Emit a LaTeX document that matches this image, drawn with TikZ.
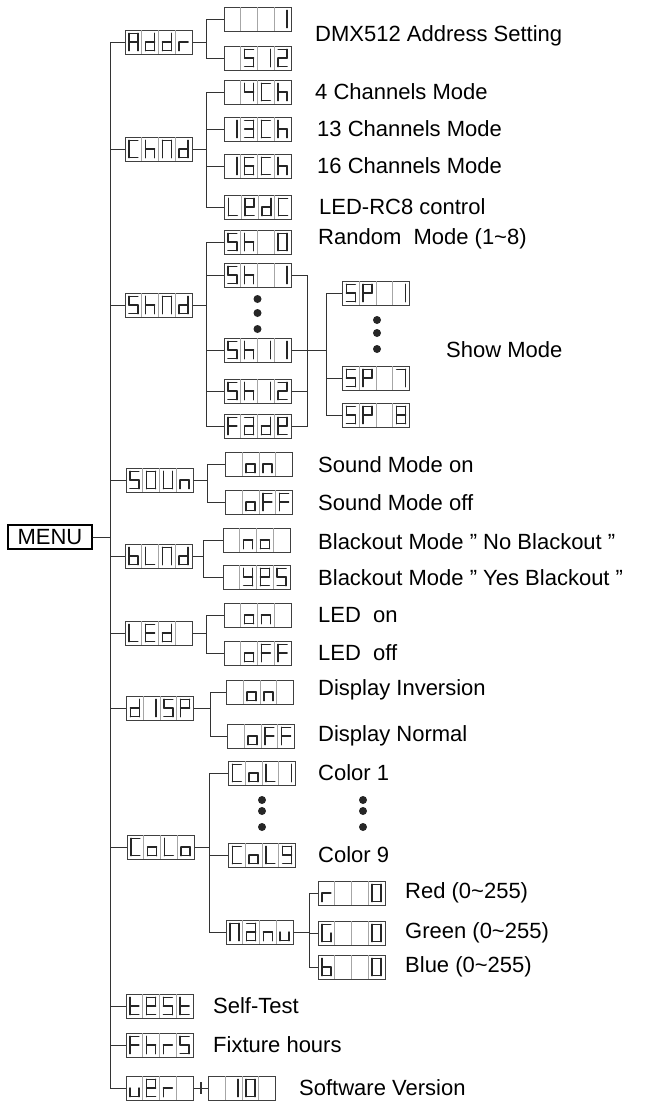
\documentclass[tikz,border=0pt]{standalone}
\usepackage{fontspec}
\setmainfont{Liberation Sans}
\usetikzlibrary{calc}
\begin{document}
\def\sw{4.5}\def\sh{8.7}
\def\segA{\draw[seg] (\cx-\sw,\cy-\sh)--(\cx+\sw,\cy-\sh);}
\def\segB{\draw[seg] (\cx+\sw,\cy-\sh)--(\cx+\sw,\cy);}
\def\segC{\draw[seg] (\cx+\sw,\cy)--(\cx+\sw,\cy+\sh);}
\def\segD{\draw[seg] (\cx-\sw,\cy+\sh)--(\cx+\sw,\cy+\sh);}
\def\segE{\draw[seg] (\cx-\sw,\cy)--(\cx-\sw,\cy+\sh);}
\def\segF{\draw[seg] (\cx-\sw,\cy-\sh)--(\cx-\sw,\cy);}
\def\segG{\draw[seg] (\cx-\sw,\cy)--(\cx+\sw,\cy);}
\expandafter\def\csname sg@a\endcsname{\segA}
\expandafter\def\csname sg@b\endcsname{\segB}
\expandafter\def\csname sg@c\endcsname{\segC}
\expandafter\def\csname sg@d\endcsname{\segD}
\expandafter\def\csname sg@e\endcsname{\segE}
\expandafter\def\csname sg@f\endcsname{\segF}
\expandafter\def\csname sg@g\endcsname{\segG}
\def\segs#1{\segsi#1\relax}
\def\segsi#1{\ifx#1\relax\else\csname sg@#1\endcsname\expandafter\segsi\fi}
\def\q{\symbol{34}}
% \disp{name}{x}{y}{cells}
\newcommand\disp[4]{%
  \node[dbox] (#1) at (#2,#3) {};
  \foreach \k in {1,2,3} {\draw[cell] (#2-33.5+\k*16.75,#3-12) -- (#2-33.5+\k*16.75,#3+12);}
  \foreach \c [count=\i] in {#4} {%
    \pgfmathsetmacro\cx{#2-33.5+(\i-0.5)*16.75}%
    \pgfmathsetmacro\cy{#3}%
    \expandafter\segs\expandafter{\c}}%
}
\begin{tikzpicture}[x=1pt,y=-1pt,
  dbox/.style={draw=black!75,line width=1pt,minimum width=67pt,minimum height=24pt,inner sep=0pt},
  cell/.style={black!35,line width=0.6pt},
  seg/.style={line width=1.4pt,line cap=round,black!85},
  conn/.style={line width=0.9pt,black!80},
  lbl/.style={anchor=west,font=\fontsize{22}{26}\selectfont,inner sep=0pt},
  dot/.style={circle,fill=black!85,inner sep=0pt,minimum size=8pt}]
\useasboundingbox (0,0) rectangle (659,1101);
\node[draw,line width=1.1pt,minimum width=84pt,minimum height=24pt,inner sep=0pt,font=\fontsize{22}{26}\selectfont] (menu) at (50,537) {MENU};
% level 1
\disp{addr}{158.5}{42}{abcefg,bcdeg,bcdeg,eg}
\disp{chnd}{158.5}{149}{adef,cefg,abcef,bcdeg}
\disp{shnd}{158.5}{305}{acdfg,cefg,abcef,bcdeg}
\disp{soun}{159.5}{480}{acdfg,abcdef,bcdef,ceg}
\disp{blnd}{158.5}{556}{cdefg,def,abcef,bcdeg}
\disp{led}{158.5}{633}{def,adefg,bcdeg,x}
\disp{disp}{160}{708}{bcdeg,bc,acdfg,abefg}
\disp{colo}{160.5}{847}{adef,cdeg,def,cdeg}
\disp{test}{159.5}{1006}{defg,abdefg,acdfg,defg}
\disp{fhrs}{159.5}{1045}{aefg,cefg,eg,acdfg}
\disp{ver}{159.5}{1088}{cde,abdefg,eg,x}
\foreach \n in {addr,chnd,shnd,soun,blnd,led,disp,colo,test,fhrs,ver}
  \draw[conn] (menu.east) -- (110,537) |- (\n.west);
% level 2
\disp{a1}{257.5}{19}{x,x,x,bc}
\disp{a2}{257.5}{58}{x,acdfg,bc,abdeg}
\disp{c1}{257.5}{92}{x,bcfg,adef,cefg}
\disp{c2}{257.5}{129}{bc,abcdg,adef,cefg}
\disp{c3}{257.5}{166}{bc,acdefg,adef,cefg}
\disp{c4}{258}{207}{def,abdefg,bcdeg,adef}
\disp{s0}{257.5}{242}{acdfg,cefg,x,abcdef}
\disp{s1}{257.5}{275}{acdfg,cefg,x,bc}
\disp{s11}{257.5}{350}{acdfg,cefg,bc,bc}
\disp{s12}{257.5}{391}{acdfg,cefg,bc,abdeg}
\disp{fade}{257.5}{426}{aefg,abcdeg,bcdeg,abdefg}
\disp{p1}{376}{293}{acdfg,abefg,x,bc}
\disp{p7}{376}{378}{acdfg,abefg,x,abc}
\disp{p8}{376}{415}{acdfg,abefg,x,abcdefg}
\disp{on1}{259}{464}{x,cdeg,ceg,x}
\disp{off1}{259}{502}{x,cdeg,aefg,aefg}
\disp{no}{256.5}{540}{x,ceg,cdeg,x}
\disp{yes}{256.5}{577}{x,bcdfg,abdefg,acdfg}
\disp{on2}{257.5}{615}{x,cdeg,ceg,x}
\disp{off2}{257.5}{653}{x,cdeg,aefg,aefg}
\disp{on3}{260}{692}{x,cdeg,ceg,x}
\disp{off3}{261}{736}{x,cdeg,aefg,aefg}
\disp{col1}{262}{773}{adef,cdeg,def,bc}
\disp{col9}{262}{855}{adef,cdeg,def,abcdfg}
\disp{manu}{259.5}{932}{abcef,abcdeg,ceg,cde}
\disp{r0}{351.5}{893}{eg,x,x,abcdef}
\disp{g0}{351.5}{933}{acdef,x,x,abcdef}
\disp{b0}{351.5}{967}{cdefg,x,x,abcdef}
\disp{v10}{242}{1088}{x,bc,abcdef,x}
% connectors level 2
\foreach \n in {a1,a2} \draw[conn] (addr.east) -- (206,42) |- (\n.west);
\foreach \n in {c1,c2,c3,c4} \draw[conn] (chnd.east) -- (206,149) |- (\n.west);
\foreach \n in {s0,s1,s11,s12,fade} \draw[conn] (shnd.east) -- (206,305) |- (\n.west);
\foreach \n in {on1,off1} \draw[conn] (soun.east) -- (207,480) |- (\n.west);
\foreach \n in {no,yes} \draw[conn] (blnd.east) -- (203,556) |- (\n.west);
\foreach \n in {on2,off2} \draw[conn] (led.east) -- (206,633) |- (\n.west);
\foreach \n in {on3,off3} \draw[conn] (disp.east) -- (210,708) |- (\n.west);
\foreach \n in {col1,col9,manu} \draw[conn] (colo.east) -- (209,847) |- (\n.west);
\foreach \n in {r0,g0,b0} \draw[conn] (manu.east) -- (309,932) |- (\n.west);
\draw[conn] (ver.east) -- (v10.west);
\draw[conn] ($(ver.east)+(8,-6)$) -- ++(0,12);
\draw[conn] ($(v10.west)+(-8,-6)$) -- ++(0,12);
\draw[conn] (s1.east) -| (307,426) -- (fade.east);
\draw[conn] (s12.east) -- (307,391);
\draw[conn] (s11.east) -- (326,350);
\foreach \n in {p1,p7,p8} \draw[conn] (326,378) |- (\n.west);
\draw[conn] (326,293) -- (326,415);
% dots
\foreach \y in {299,313,329} \node[dot] at (257.5,\y) {};
\foreach \y in {320,333,349} \node[dot] at (377,\y) {};
\foreach \y in {800,811,827} \node[dot] at (262,\y) {};
\foreach \y in {800,811,827} \node[dot] at (363,\y) {};
% labels
\node[lbl] at (315,36) {DMX512 Address Setting};
\node[lbl] at (315,92) {4 Channels Mode};
\node[lbl] at (317,129) {13 Channels Mode};
\node[lbl] at (317,166) {16 Channels Mode};
\node[lbl] at (319,207) {LED-RC8 control};
\node[lbl] at (318,239) {Random\ \ Mode (1\textasciitilde8)};
\node[lbl] at (446,350) {Show Mode};
\node[lbl] at (318,465) {Sound Mode on};
\node[lbl] at (318,503) {Sound Mode off};
\node[lbl] at (318,542) {Blackout Mode \q\ No Blackout \q};
\node[lbl] at (318,578) {Blackout Mode \q\ Yes Blackout \q};
\node[lbl] at (318,615) {LED\ \ on};
\node[lbl] at (318,653) {LED\ \ off};
\node[lbl] at (318,690) {Display Inversion};
\node[lbl] at (318,736) {Display Normal};
\node[lbl] at (318,773) {Color 1};
\node[lbl] at (318,855) {Color 9};
\node[lbl] at (405,893) {Red (0\textasciitilde255)};
\node[lbl] at (405,933) {Green (0\textasciitilde255)};
\node[lbl] at (405,967) {Blue (0\textasciitilde255)};
\node[lbl] at (213,1006) {Self-Test};
\node[lbl] at (213,1045) {Fixture hours};
\node[lbl] at (299,1088) {Software Version};
\end{tikzpicture}
\end{document}
